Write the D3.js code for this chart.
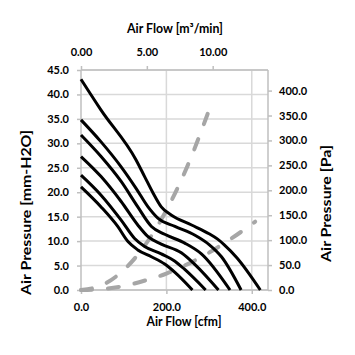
<!DOCTYPE html>
<html><head><meta charset="utf-8">
<script src="https://cdn.jsdelivr.net/npm/d3@7/dist/d3.min.js"></script>
<style>
html,body{margin:0;padding:0;background:#fff;}
svg text{font-family:Lato,"Open Sans",sans-serif;font-weight:bold;fill:#000;}
</style></head>
<body><svg id="c" width="355" height="355"></svg>
<script>
// ---- data ----
const flowC1 = [0, 47, 129, 149, 169, 188, 212, 259, 300, 320, 335, 365, 420];
const presC1 = [43.1, 36.8, 26.6, 23.2, 19.8, 17.0, 15.3, 13.3, 11.5, 10.4, 9.3, 6.6, 0];
const flowC2 = [0, 47, 94, 129, 157, 180, 220, 267, 300, 329, 375];
const presC2 = [34.8, 30.3, 25.2, 20.8, 17.0, 14.7, 13.0, 11.2, 9.3, 6.8, 0];
const flowC3 = [0, 47, 94, 133, 165, 196, 243, 282, 349];
const presC3 = [31.7, 27.3, 22.2, 17.0, 13.0, 11.4, 9.6, 7.4, 0];
const flowC4 = [0, 47, 94, 133, 157, 188, 235, 267, 322];
const presC4 = [27.3, 23.2, 18.1, 13.3, 10.9, 9.4, 7.6, 5.2, 0];
const flowC5 = [0, 47, 94, 125, 149, 188, 220, 243, 292];
const presC5 = [23.5, 19.4, 14.3, 10.6, 8.9, 7.4, 5.9, 4.2, 0];
const flowC6 = [0, 47, 86, 110, 133, 165, 196, 220, 261];
const presC6 = [21.1, 17.0, 13.0, 9.9, 8.2, 6.8, 5.3, 3.6, 0];
// system resistance curves (right axis, Pa)
const flowS1 = [0, 50, 100, 150, 200, 250, 300];
const presS1 = [0, 10, 40, 90, 160, 250, 361];
const flowS2 = [0, 50, 100, 150, 200, 250, 300, 350, 408];
const presS2 = [0, 2, 8, 19, 33, 52, 75, 102, 137];
// tick labels
const leftTicks = [0, 5, 10, 15, 20, 25, 30, 35, 40, 45];
const rightTicks = [0, 50, 100, 150, 200, 250, 300, 350, 400];
const bottomTicks = [0, 200, 400];
const topTicks = [0, 5, 10];

const svg = d3.select("#c");
const L = 81, R = 268, T = 70, B = 290;
const x = d3.scaleLinear().domain([0, 438]).range([L, R]);
const xTop = d3.scaleLinear().domain([0, 14.2]).range([L, R]);
const y = d3.scaleLinear().domain([0, 45]).range([B, T]);
const yR = d3.scaleLinear().domain([0, 441.3]).range([B, T]);

const gridC = "#d9d9d9", axC = "#bfbfbf";
// grid
svg.append("g").selectAll("line").data(leftTicks).join("line")
  .attr("x1", L).attr("x2", R).attr("y1", d => y(d)).attr("y2", d => y(d))
  .attr("stroke", gridC).attr("stroke-width", 1.5);
svg.append("g").selectAll("line").data(bottomTicks.filter(d => d > 0)).join("line")
  .attr("x1", d => x(d)).attr("x2", d => x(d)).attr("y1", T).attr("y2", B)
  .attr("stroke", gridC).attr("stroke-width", 1.5);

function styleAxis(g) {
  g.select(".domain").attr("stroke", axC).attr("stroke-width", 1.5);
  g.selectAll(".tick line").attr("stroke", axC).attr("stroke-width", 1.5);
  g.selectAll(".tick text").attr("font-size", 11).style("font-family", "Lato,'Open Sans',sans-serif").style("font-weight", "bold").attr("fill", "#000");
}
const axL = svg.append("g").attr("transform", `translate(${L},0)`)
  .call(d3.axisLeft(y).tickValues(leftTicks).tickFormat(d3.format(".1f")).tickSize(4).tickPadding(8));
styleAxis(axL);
const axR = svg.append("g").attr("transform", `translate(${R},0)`)
  .call(d3.axisRight(yR).tickValues(rightTicks).tickFormat(d3.format(".1f")).tickSize(4).tickPadding(7));
styleAxis(axR);
const axB = svg.append("g").attr("transform", `translate(0,${B})`)
  .call(d3.axisBottom(x).tickValues(bottomTicks).tickFormat(d3.format(".1f")).tickSize(4).tickPadding(9));
styleAxis(axB);
const axT = svg.append("g").attr("transform", `translate(0,${T})`)
  .call(d3.axisTop(xTop).tickValues(topTicks).tickFormat(d3.format(".2f")).tickSize(4).tickPadding(10));
styleAxis(axT);
axT.select(".domain").attr("d", `M${L},0H${R}`);
axB.select(".domain").attr("d", `M${L},0H${R}`);
axL.select(".domain").attr("d", `M0,${y(0)}V${y(45)}`);
axR.select(".domain").attr("d", `M0,${yR(0)}V${yR(441.3)}`);

// system curves (dashed grey)
const lineR = d3.line().x(d => x(d[0])).y(d => yR(d[1])).curve(d3.curveMonotoneX);
[[flowS1, presS1], [flowS2, presS2]].forEach(([f, p]) => {
  svg.append("path").attr("d", lineR(f.map((v, i) => [v, p[i]])))
    .attr("fill", "none").attr("stroke", "#a6a6a6").attr("stroke-width", 4)
    .attr("stroke-dasharray", "11,16").attr("stroke-linecap", "round");
});
// fan curves
const lineL = d3.line().x(d => x(d[0])).y(d => y(d[1])).curve(d3.curveMonotoneX);
[[flowC1, presC1], [flowC2, presC2], [flowC3, presC3], [flowC4, presC4], [flowC5, presC5], [flowC6, presC6]].forEach(([f, p]) => {
  svg.append("path").attr("d", lineL(f.map((v, i) => [v, p[i]])))
    .attr("fill", "none").attr("stroke", "#000").attr("stroke-width", 3).attr("stroke-linejoin", "round");
});

// titles
svg.append("text").attr("x", 175).attr("y", 33).attr("text-anchor", "middle").attr("font-size", 12.5)
  .attr("textLength", 96).attr("lengthAdjust", "spacingAndGlyphs").text("Air Flow [m³/min]");
svg.append("text").attr("x", 184).attr("y", 326).attr("text-anchor", "middle").attr("font-size", 12.5)
  .attr("textLength", 75).attr("lengthAdjust", "spacingAndGlyphs").text("Air Flow [cfm]");
svg.append("text").attr("transform", "translate(31,212.5) rotate(-90)").attr("text-anchor", "middle").attr("font-size", 12.5)
  .attr("textLength", 165).attr("lengthAdjust", "spacingAndGlyphs").text("Air Pressure [mm-H2O]");
svg.append("text").attr("transform", "translate(331,203.5) rotate(-90)").attr("text-anchor", "middle").attr("font-size", 12.5)
  .attr("textLength", 117).attr("lengthAdjust", "spacingAndGlyphs").text("Air Pressure [Pa]");
</script></body></html>
